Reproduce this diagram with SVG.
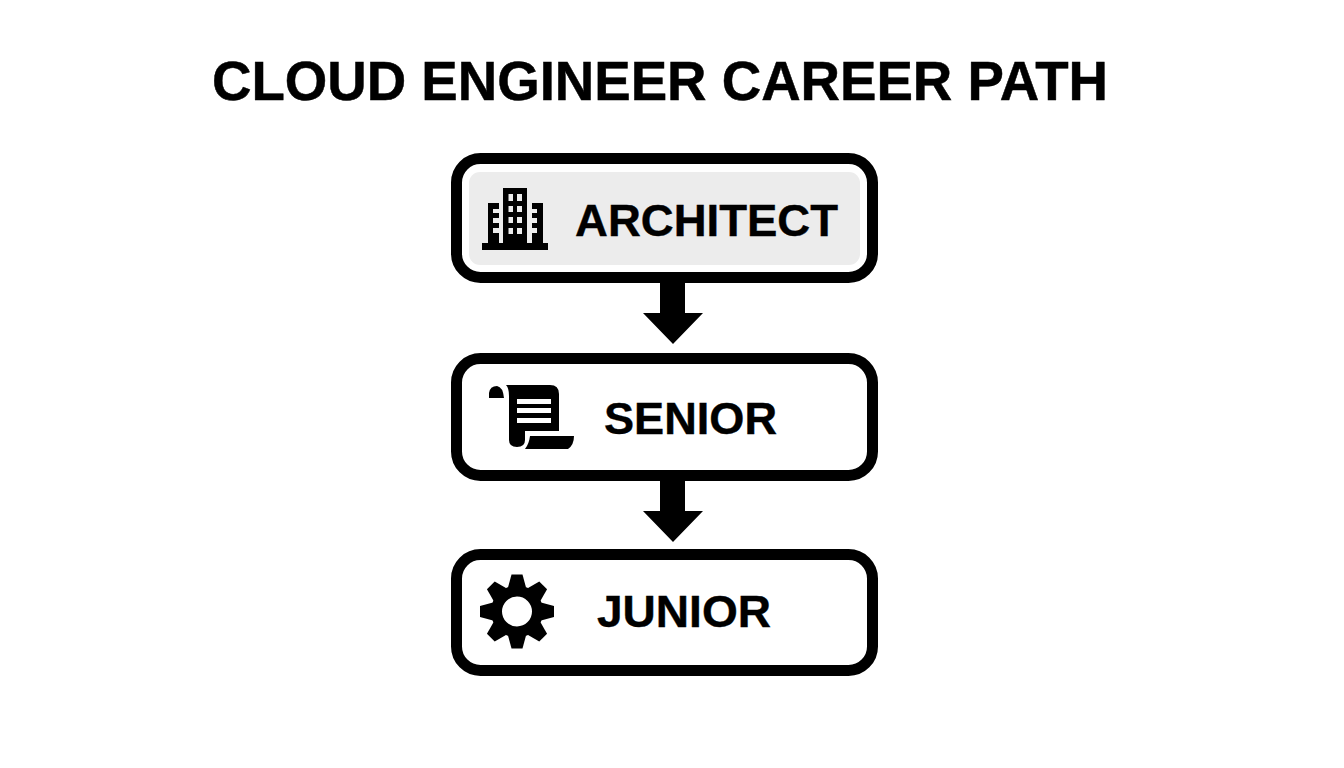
<svg xmlns="http://www.w3.org/2000/svg" width="1344" height="768" viewBox="0 0 1344 768">
<style>
.box{fill:#fff;stroke:#000;stroke-width:11}
.t{font-family:"Liberation Sans",Arial,sans-serif;font-weight:700;fill:#000;stroke:#000;text-anchor:start}
.l{font-size:44px;stroke-width:.4}
</style>
<defs>
<path id="tooth" d="M-5.500 -37H5.500L9 -24H-9Z"/>
</defs>
<rect width="1344" height="768" fill="#fff"/>
<text id="title" class="t" x="212" y="99.500" font-size="56" stroke-width=".5" textLength="896" lengthAdjust="spacingAndGlyphs">CLOUD ENGINEER CAREER PATH</text>
<g id="connectors">
<path d="M660 281H685V313H703L673 344L643 313H660Z"/>
<path d="M660 479H685V511H703L673 542L643 511H660Z"/>
</g>
<g id="architect">
<rect class="box" x="456.5" y="158.5" width="416" height="119" rx="24"/>
<rect x="469" y="172" width="391" height="93" rx="11" fill="#ececec"/>
<path fill-rule="evenodd" d="M482 243H488V203H499V243H503V188H527V243H532V203H543V243H548V250H482Z
M508.500 194V201H513V194Z M517 194V201H522V194Z M508.500 206V212H513V206Z M517 206V212H522V206Z M508.500 217V223H513V217Z M517 217V223H522V217Z M508.500 228V234H513V228Z M517 228V234H522V228Z
M493 209V213H499V209Z M493 218V223H499V218Z M493 228V233H499V228Z M532 209V213H537V209Z M532 218V223H537V218Z M532 228V233H537V228Z"/>
<text class="t l" x="575" y="236" textLength="263" lengthAdjust="spacingAndGlyphs">ARCHITECT</text>
</g>
<g id="senior">
<rect class="box" x="456.5" y="358.500" width="416" height="117" rx="24"/>
<path d="M489 398V393Q490 386 497 386Q503 387 504 398Z"/>
<path fill-rule="evenodd" d="M506 385H550Q559 385 559 394V431H525V440Q525 447 517 447Q509 447 509 440V396Q509 388 506 385Z
M517 399V404H551V399Z M517 408V413H551V408Z M517 418V423H551V418Z"/>
<path d="M530 436H574Q574 445 568 449H525Q529 444 530 436Z"/>
<text class="t l" x="604" y="433.500" textLength="173" lengthAdjust="spacingAndGlyphs">SENIOR</text>
</g>
<g id="junior">
<rect class="box" x="456.5" y="554.500" width="416" height="116" rx="24"/>
<g transform="translate(517 611.5)">
<path fill-rule="evenodd" d="M26 0A26 26 0 1 0 -26 0A26 26 0 1 0 26 0Z M15 0A15 15 0 1 0 -15 0A15 15 0 1 0 15 0Z"/>
<use href="#tooth"/>
<use href="#tooth" transform="rotate(45)"/>
<use href="#tooth" transform="rotate(90)"/>
<use href="#tooth" transform="rotate(135)"/>
<use href="#tooth" transform="rotate(180)"/>
<use href="#tooth" transform="rotate(225)"/>
<use href="#tooth" transform="rotate(270)"/>
<use href="#tooth" transform="rotate(315)"/>
</g>
<text class="t l" x="597" y="627" textLength="174" lengthAdjust="spacingAndGlyphs">JUNIOR</text>
</g>
</svg>
